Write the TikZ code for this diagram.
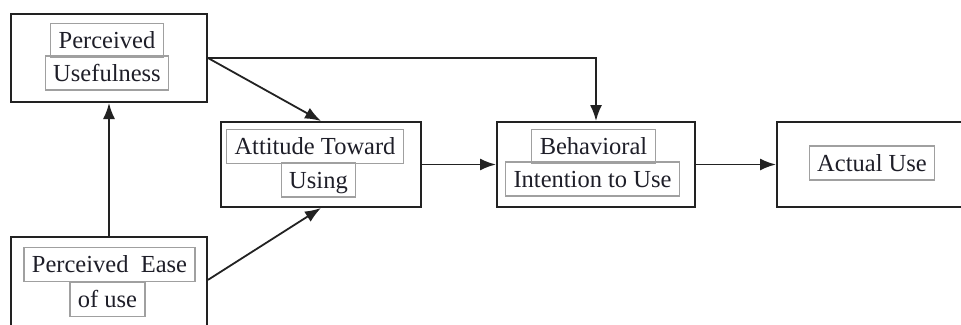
\documentclass[tikz,border=0pt]{standalone}
\usepackage{fontspec}
\setmainfont{Liberation Serif}
\usetikzlibrary{arrows.meta,calc}
\definecolor{boxline}{HTML}{222222}
\definecolor{txtgray}{HTML}{A0A0A0}
\definecolor{txt}{HTML}{1E1E28}
\begin{document}
\begin{tikzpicture}[x=1pt,y=-1pt,
  outer/.style={draw=boxline,line width=2pt,rectangle,inner sep=0pt},
  lbl/.style={draw=txtgray,line width=1.2pt,rectangle,text=txt,inner xsep=8pt,inner ysep=0pt,
    text height=25pt,text depth=9pt,font=\fontsize{24.5}{28}\selectfont},
  conn/.style={draw=boxline,line width=1.8pt,-{Latex[length=16pt,width=12pt]}}]
\useasboundingbox (0,0) rectangle (961,324);
% outer boxes
\node[outer,minimum width=196pt,minimum height=88pt] (PU) at (109,58) {};
\node[outer,minimum width=196pt,minimum height=100pt] (PEU) at (109,287) {};
\node[outer,minimum width=200pt,minimum height=85pt] (ATT) at (321,164.5) {};
\node[outer,minimum width=198pt,minimum height=85pt] (BI) at (596,164.5) {};
\node[outer,minimum width=198pt,minimum height=85pt] (AU) at (876,164.5) {};
\coordinate (PEUout) at ($(PEU.north east)!0.43!(PEU.south east)$);
% labels
\node[lbl] (t1) at (107,40.5) {Perceived};
\node[lbl] (t2) at (107,73) {Usefulness};
\node[lbl] (t3) at (109.5,264.5) {Perceived\hspace{0.5em}Ease};
\node[lbl] (t4) at (107.5,299.5) {of use};
\node[lbl] (t5) at (315,146.5) {Attitude Toward};
\node[lbl] (t6) at (318.5,180) {Using};
\node[lbl] (t7) at (593.5,146.5) {Behavioral};
\node[lbl] (t8) at (592.5,179) {Intention to Use};
\node[lbl] (t9) at (872,163) {Actual Use};
% connectors
\draw[conn] (PEU.north) -- (PU.south);
\draw[conn] (PU.east) -- (ATT.north);
\draw[conn] (PU.east) -| (BI.north);
\draw[conn] (PEUout) -- (ATT.south);
\draw[conn] (ATT.east) -- (BI.west);
\draw[conn] (BI.east) -- (AU.west);
\end{tikzpicture}
\end{document}
